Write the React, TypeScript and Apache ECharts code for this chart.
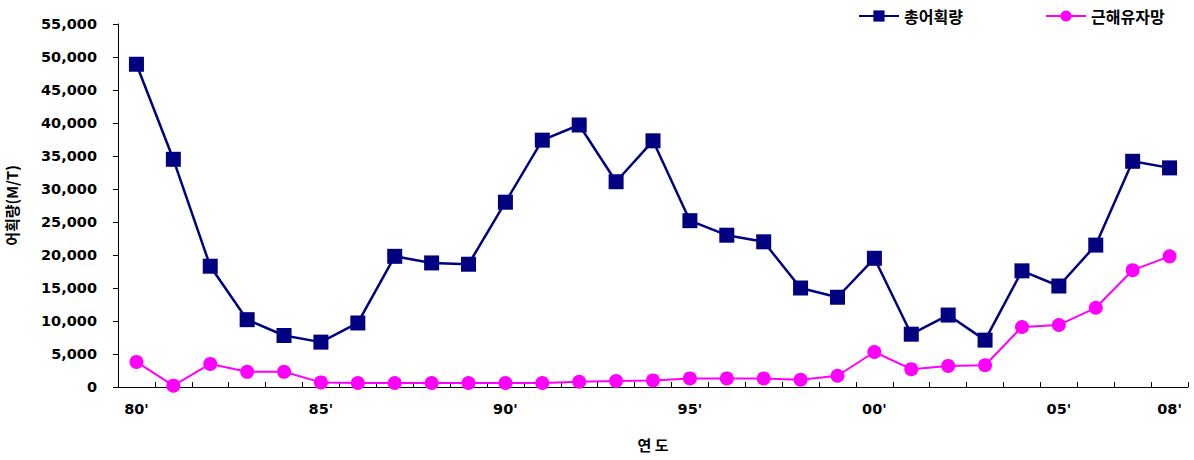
import React, { useEffect, useRef } from "react";
import * as echarts from "echarts";

const years: string[] = [
  "80'", "81'", "82'", "83'", "84'", "85'", "86'", "87'", "88'", "89'",
  "90'", "91'", "92'", "93'", "94'", "95'", "96'", "97'", "98'", "99'",
  "00'", "01'", "02'", "03'", "04'", "05'", "06'", "07'", "08'",
];
const labelIndices: number[] = [0, 5, 10, 15, 20, 25, 28];
const totalCatch: number[] = [
  48900, 34500, 18300, 10200, 7800, 6800, 9700, 19800, 18800, 18600,
  28000, 37400, 39700, 31100, 37300, 25200, 23000, 22000, 15000, 13600,
  19500, 8000, 10900, 7100, 17600, 15300, 21500, 34200, 33200,
];
const gillnet: number[] = [
  3800, 200, 3500, 2300, 2300, 700, 600, 600, 600, 600,
  600, 600, 800, 900, 1000, 1300, 1300, 1300, 1100, 1700,
  5300, 2700, 3200, 3300, 9100, 9400, 12000, 17700, 19800,
];
const seriesNames: string[] = ["총어획량", "근해유자망"];

const KFONT = "'Noto Sans CJK KR', 'Noto Sans', sans-serif";
const NFONT = "'DejaVu Sans', sans-serif";

export default function App() {
  const ref = useRef<HTMLDivElement>(null);
  useEffect(() => {
    if (!ref.current) return;
    const chart = echarts.init(ref.current, undefined, { renderer: "svg" });
    const legendText = { fontFamily: KFONT, fontSize: 16, fontWeight: "bold", color: "#000" };
    chart.setOption({
      animation: false,
      backgroundColor: "#fff",
      textStyle: { fontFamily: KFONT },
      legend: [
        {
          data: [seriesNames[0]],
          left: 853,
          top: 3,
          itemWidth: 40,
          itemHeight: 14,
          textStyle: legendText,
        },
        {
          data: [seriesNames[1]],
          left: 1040,
          top: 3,
          itemWidth: 40,
          itemHeight: 14,
          textStyle: legendText,
        },
      ],
      grid: { left: 118, right: 6, top: 24, bottom: 73, containLabel: false, outerBoundsMode: "none" },
      xAxis: {
        type: "category",
        data: years,
        boundaryGap: true,
        name: "연 도",
        nameLocation: "middle",
        nameGap: 50,
        nameTextStyle: { fontFamily: KFONT, fontSize: 15, fontWeight: "bold", color: "#000" },
        axisLine: { lineStyle: { color: "#000", width: 1 } },
        axisTick: { show: true, interval: 0, inside: true, length: 5, lineStyle: { color: "#000" } },
        axisLabel: {
          interval: (index: number) => labelIndices.includes(index),
          margin: 14,
          fontFamily: NFONT,
          fontSize: 14.5,
          fontWeight: "bold",
          color: "#000",
        },
        splitLine: { show: false },
      },
      yAxis: {
        type: "value",
        min: 0,
        max: 55000,
        interval: 5000,
        name: "어획량(M/T)",
        nameLocation: "middle",
        nameRotate: 90,
        nameGap: 99,
        nameTextStyle: { fontFamily: KFONT, fontSize: 15, fontWeight: "bold", color: "#000" },
        axisLine: { show: true, lineStyle: { color: "#000", width: 1 } },
        axisTick: { show: true, inside: false, length: 5, lineStyle: { color: "#000" } },
        axisLabel: {
          margin: 21,
          fontFamily: NFONT,
          fontSize: 14.5,
          fontWeight: "bold",
          color: "#000",
          formatter: (v: number) => v.toLocaleString("en-US"),
        },
        splitLine: { show: false },
      },
      series: [
        {
          name: seriesNames[0],
          type: "line",
          data: totalCatch,
          symbol: "rect",
          symbolSize: 15,
          itemStyle: { color: "#000080" },
          lineStyle: { color: "#000080", width: 2.5 },
        },
        {
          name: seriesNames[1],
          type: "line",
          data: gillnet,
          symbol: "circle",
          symbolSize: 14,
          itemStyle: { color: "#FF00FF" },
          lineStyle: { color: "#FF00FF", width: 2 },
        },
      ],
    });
    return () => chart.dispose();
  }, []);
  return <div ref={ref} style={{ width: 1194, height: 460, position: "absolute", left: 0, top: 0 }} />;
}
